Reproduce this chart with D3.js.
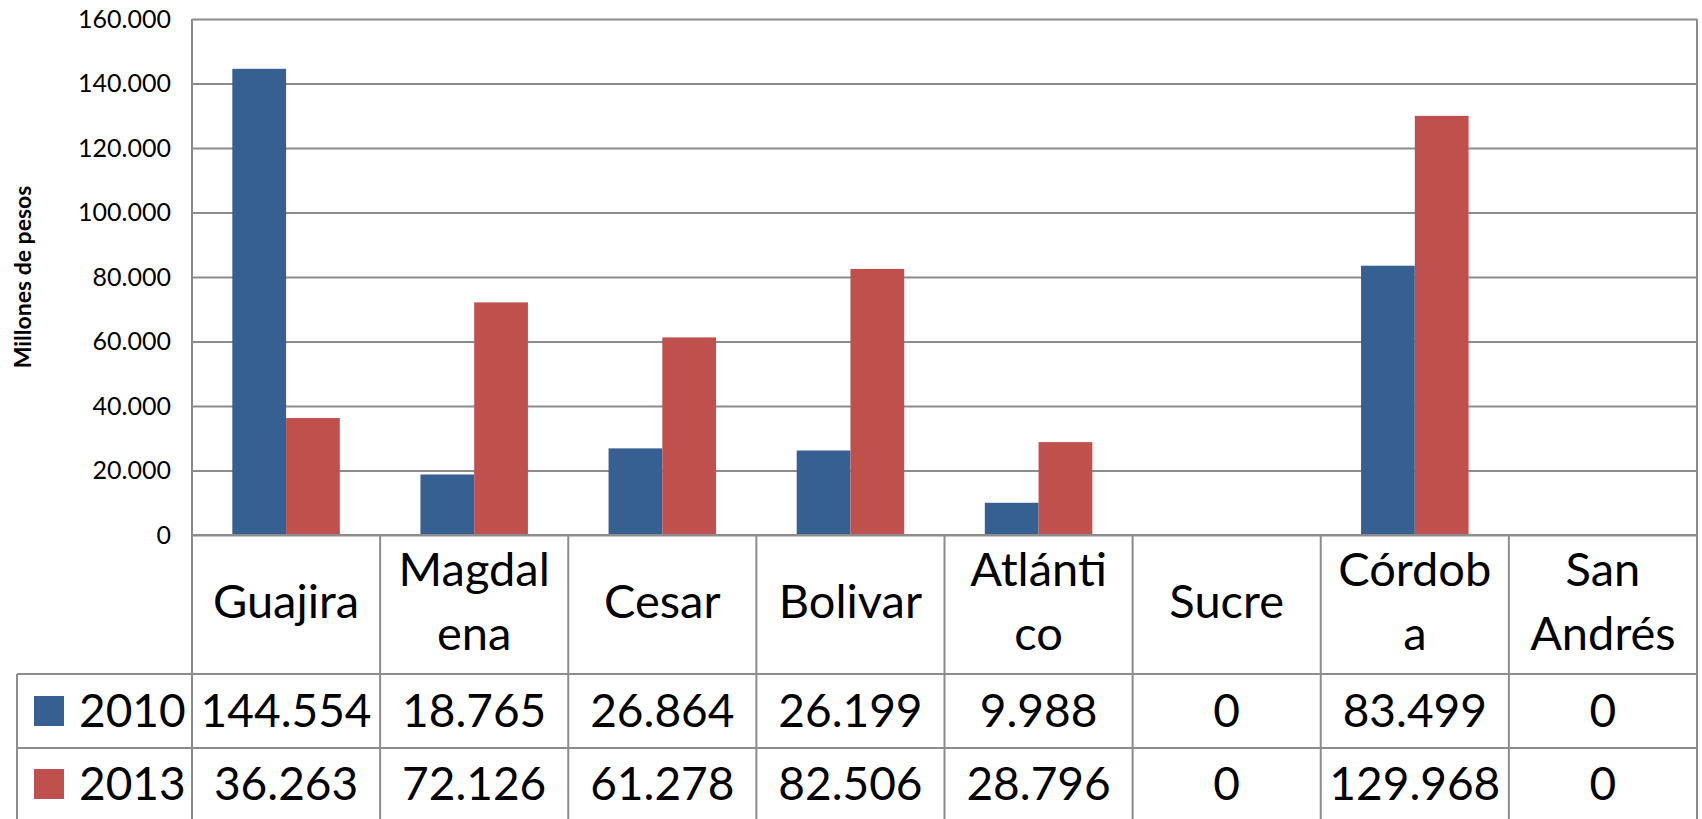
<!DOCTYPE html>
<html>
<head>
<meta charset="utf-8">
<script src="https://cdnjs.cloudflare.com/ajax/libs/d3/7.8.5/d3.min.js"></script>
<style>
  body { margin: 0; background: #fff; }
  svg { display: block; font-family: Lato, "Noto Sans", sans-serif; }
</style>
</head>
<body>
<div id="viz"></div>
<script>
"use strict";

const w = 1702;
const h = 819;

// data
const categories = ["Guajira", "Magdalena", "Cesar", "Bolivar", "Atlántico", "Sucre", "Córdoba", "San Andrés"];
const categoryLines = [["Guajira"], ["Magdal", "ena"], ["Cesar"], ["Bolivar"], ["Atlánti", "co"], ["Sucre"], ["Córdob", "a"], ["San", "Andrés"]];
const seriesNames = ["2010", "2013"];
const values2010 = [144554, 18765, 26864, 26199, 9988, 0, 83499, 0];
const values2013 = [36263, 72126, 61278, 82506, 28796, 0, 129968, 0];
const yTicks = [0, 20000, 40000, 60000, 80000, 100000, 120000, 140000, 160000];
const yLabel = "Millones de pesos";

const seriesValues = [values2010, values2013];
const colors = ["#376092", "#C0504D"];
const gridColor = "#8c8c8c";

const plotLeft = 192, plotRight = 1697, plotTop = 19, axisY = 535;
const headBottom = 674, row1Bottom = 748, tableLeft = 17;

const loc = d3.formatLocale({ decimal: ",", thousands: ".", grouping: [3], currency: ["$", ""] });
const fmt = loc.format(",d");

const svg = d3.select("#viz")
  .append("svg")
  .attr("width", w)
  .attr("height", h);

const x = d3.scaleBand()
  .domain(categories)
  .range([plotLeft, plotRight])
  .paddingInner(0)
  .paddingOuter(0);

// gap width 150% -> bar = category / 3.5
const xSub = d3.scaleBand()
  .domain(seriesNames)
  .range([0, x.bandwidth()])
  .paddingInner(0)
  .paddingOuter(0.75);

const y = d3.scaleLinear()
  .domain([0, 160000])
  .range([axisY, plotTop]);

// gridlines + tick labels
const yAxis = svg.append("g")
  .attr("transform", `translate(${plotLeft},0)`)
  .call(d3.axisLeft(y)
    .tickValues(yTicks)
    .tickSize(-(plotRight - plotLeft))
    .tickPadding(21)
    .tickFormat(fmt));

yAxis.select(".domain").remove();
yAxis.selectAll(".tick line")
  .attr("stroke", gridColor)
  .attr("stroke-width", 2);
yAxis.selectAll(".tick text")
  .attr("fill", "#000")
  .style("font-size", "25px")
  .style("font-family", "Lato, sans-serif");

// y axis title
svg.append("text")
  .attr("transform", `translate(31,277) rotate(-90)`)
  .attr("text-anchor", "middle")
  .style("font-size", "23px")
  .style("font-weight", "bold")
  .text(yLabel);

// bars
const rows = categories.map((c, i) => ({ cat: c, vals: seriesNames.map((s, j) => ({ s, v: seriesValues[j][i], j })) }));

svg.append("g")
  .selectAll("g")
  .data(rows)
  .join("g")
  .attr("transform", d => `translate(${x(d.cat)},0)`)
  .selectAll("rect")
  .data(d => d.vals)
  .join("rect")
  .attr("x", d => xSub(d.s))
  .attr("width", xSub.bandwidth())
  .attr("y", d => y(d.v))
  .attr("height", d => y(0) - y(d.v))
  .attr("fill", d => colors[d.j]);

// data table lines
const lines = svg.append("g")
  .attr("stroke", gridColor)
  .attr("stroke-width", 2);

lines.append("line").attr("x1", plotLeft).attr("x2", plotRight).attr("y1", axisY).attr("y2", axisY);
lines.append("line").attr("x1", tableLeft).attr("x2", plotRight).attr("y1", headBottom).attr("y2", headBottom);
lines.append("line").attr("x1", tableLeft).attr("x2", plotRight).attr("y1", row1Bottom).attr("y2", row1Bottom);
lines.append("line").attr("x1", tableLeft).attr("x2", tableLeft).attr("y1", headBottom).attr("y2", h);
lines.append("line").attr("x1", plotLeft).attr("x2", plotLeft).attr("y1", plotTop).attr("y2", h);
lines.selectAll(".col")
  .data(categories)
  .join("line")
  .attr("class", "col")
  .attr("x1", d => x(d) + x.bandwidth())
  .attr("x2", d => x(d) + x.bandwidth())
  .attr("y1", (d, i) => i === categories.length - 1 ? plotTop : axisY)
  .attr("y2", h);

// header text
const lineH = 64;
svg.append("g")
  .selectAll("text")
  .data(categories)
  .join("text")
  .attr("text-anchor", "middle")
  .style("font-size", "47px")
  .each(function (d, i) {
    const ls = categoryLines[i];
    const base = 618 - (ls.length - 1) * lineH / 2;
    d3.select(this).selectAll("tspan")
      .data(ls)
      .join("tspan")
      .attr("x", x(d) + x.bandwidth() / 2)
      .attr("y", (t, k) => base + k * lineH)
      .text(t => t);
  });

// value rows
const rowBase = [727, 800];
seriesNames.forEach((s, j) => {
  svg.append("g")
    .selectAll("text")
    .data(categories)
    .join("text")
    .attr("x", d => x(d) + x.bandwidth() / 2)
    .attr("y", rowBase[j])
    .attr("text-anchor", "middle")
    .style("font-size", "46px")
    .text((d, i) => fmt(seriesValues[j][i]));

  svg.append("rect")
    .attr("x", 34)
    .attr("y", rowBase[j] - 31)
    .attr("width", 30)
    .attr("height", 30)
    .attr("fill", colors[j]);

  svg.append("text")
    .attr("x", 79)
    .attr("y", rowBase[j])
    .style("font-size", "46px")
    .text(s);
});
</script>
</body>
</html>
